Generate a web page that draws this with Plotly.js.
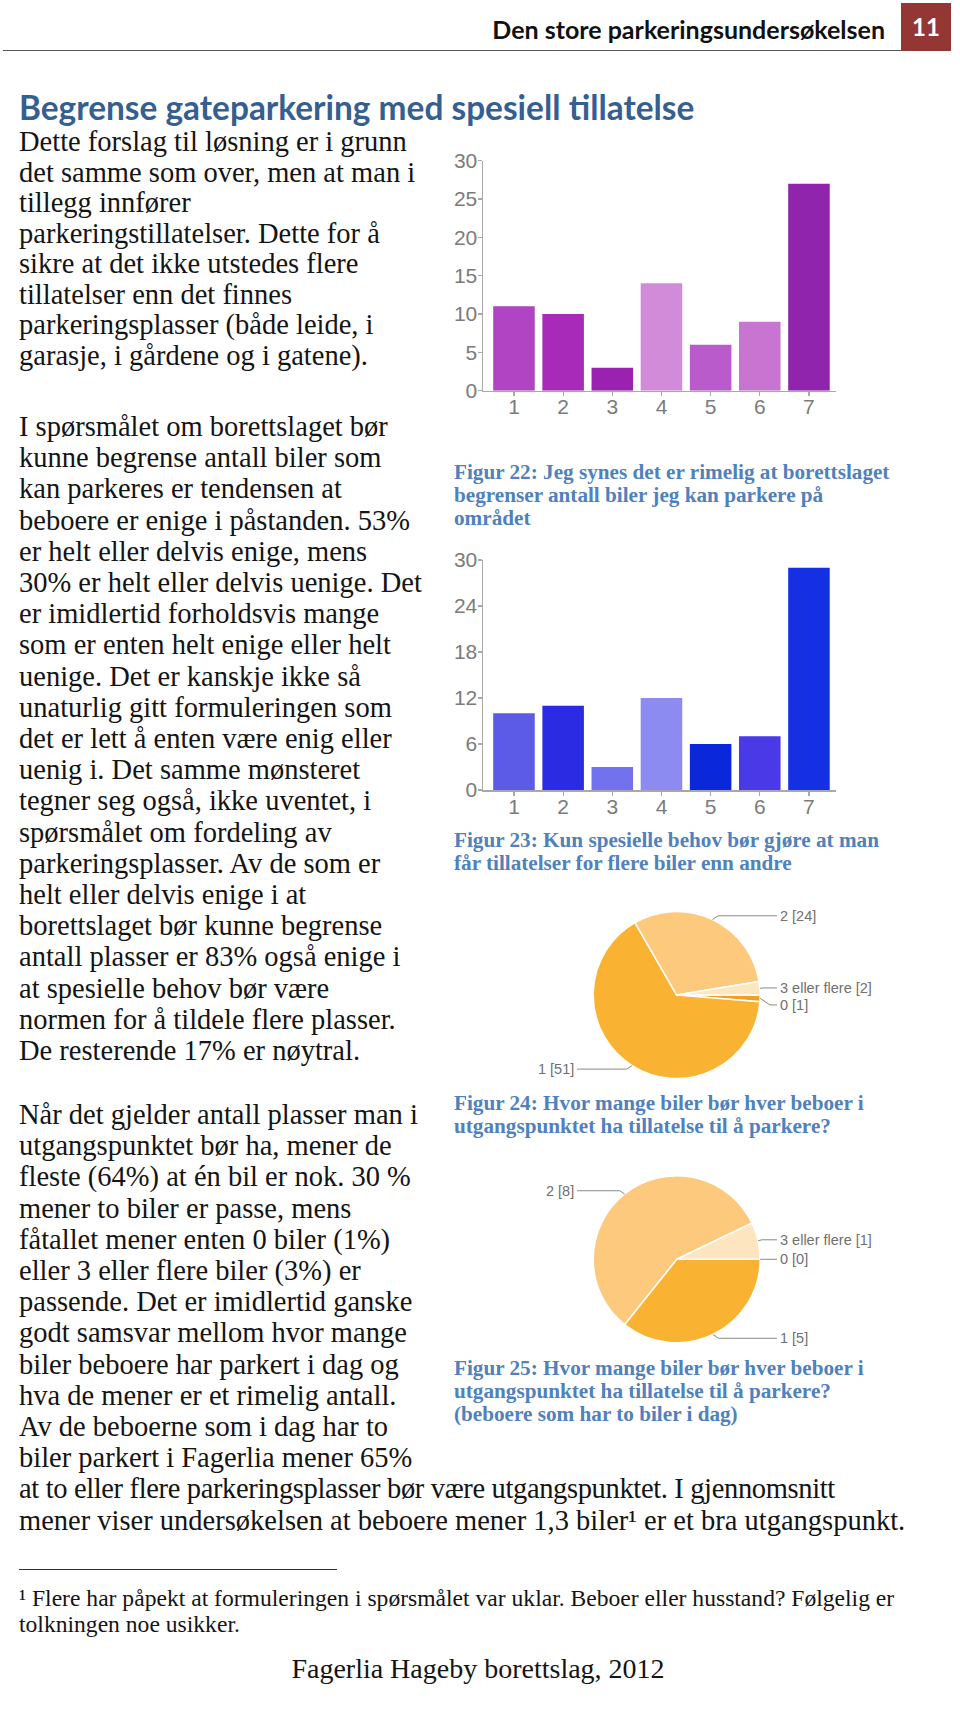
<!DOCTYPE html>
<html lang="no">
<head>
<meta charset="utf-8">
<script src="https://cdn.plot.ly/plotly-3.0.1.min.js"></script>
<style>
html,body{margin:0;padding:0;background:#fff;}
body{width:960px;height:1719px;position:relative;overflow:hidden;}
#chart{position:absolute;left:0;top:0;width:960px;height:1719px;z-index:1;}
.t{position:absolute;white-space:nowrap;font-family:"Liberation Serif","Times New Roman",serif;color:#141414;z-index:2;pointer-events:none;}
.body1{left:19px;top:127px;font-size:28.5px;line-height:30.5px;}
.body2{left:19px;top:411px;font-size:28.5px;line-height:31.2px;}
.body3{left:19px;top:1099px;font-size:28.5px;line-height:31.2px;}
.narrow{letter-spacing:-0.35px;}
.cap{left:454px;font-size:21.2px;line-height:23px;font-weight:bold;color:#4f81bd;}
.hdr{font-family:Lato,"Liberation Sans",sans-serif;font-weight:700;}
#header{right:75px;top:12px;font-size:25px;line-height:34px;color:#111;}
#pagebox{position:absolute;left:901px;top:3px;width:50px;height:48px;background:#943634;color:#fff;text-align:center;line-height:48px;font-size:24px;z-index:2;}
#rule{position:absolute;left:3px;top:50px;width:898px;height:0;border-top:1.5px solid #555;z-index:2;}
#title{left:19px;top:88px;font-size:33.4px;line-height:38px;color:#365f91;}
#fnrule{position:absolute;left:19px;top:1569px;width:318px;height:0;border-top:1.2px solid #333;z-index:2;}
#footnote{left:19px;top:1585px;font-size:23.6px;line-height:26.3px;}
#footer{left:0;width:956px;text-align:center;top:1652px;font-size:28px;line-height:34px;}
</style>
</head>
<body>
<div id="chart"></div>

<div id="header" class="t hdr">Den store parkeringsundersøkelsen</div>
<div id="pagebox" class="hdr">11</div>
<div id="rule"></div>
<div id="title" class="t hdr">Begrense gateparkering med spesiell tillatelse</div>

<div class="t body1">Dette forslag til løsning er i grunn<br>det samme som over, men at man i<br>tillegg innfører<br>parkeringstillatelser. Dette for å<br>sikre at det ikke utstedes flere<br>tillatelser enn det finnes<br>parkeringsplasser (både leide, i<br>garasje, i gårdene og i gatene).</div>

<div class="t body2">I spørsmålet om borettslaget bør<br>kunne begrense antall biler som<br>kan parkeres er tendensen at<br>beboere er enige i påstanden. 53%<br>er helt eller delvis enige, mens<br>30% er helt eller delvis uenige. Det<br>er imidlertid forholdsvis mange<br>som er enten helt enige eller helt<br>uenige. Det er kanskje ikke så<br>unaturlig gitt formuleringen som<br>det er lett å enten være enig eller<br>uenig i. Det samme mønsteret<br>tegner seg også, ikke uventet, i<br>spørsmålet om fordeling av<br>parkeringsplasser. Av de som er<br>helt eller delvis enige i at<br>borettslaget bør kunne begrense<br>antall plasser er 83% også enige i<br>at spesielle behov bør være<br>normen for å tildele flere plasser.<br>De resterende 17% er nøytral.</div>

<div class="t body3">Når det gjelder antall plasser man i<br>utgangspunktet bør ha, mener de<br>fleste (64%) at én bil er nok. 30 %<br>mener to biler er passe, mens<br>fåtallet mener enten 0 biler (1%)<br>eller 3 eller flere biler (3%) er<br>passende. Det er imidlertid ganske<br>godt samsvar mellom hvor mange<br>biler beboere har parkert i dag og<br>hva de mener er et rimelig antall.<br>Av de beboerne som i dag har to<br>biler parkert i Fagerlia mener 65%<br><span class="narrow">at to eller flere parkeringsplasser bør være utgangspunktet. I gjennomsnitt</span><br>mener viser undersøkelsen at beboere mener 1,3 biler¹ er et bra utgangspunkt.</div>

<div class="t cap" style="top:461px;">Figur 22: Jeg synes det er rimelig at borettslaget<br>begrenser antall biler jeg kan parkere på<br>området</div>
<div class="t cap" style="top:829px;">Figur 23: Kun spesielle behov bør gjøre at man<br>får tillatelser for flere biler enn andre</div>
<div class="t cap" style="top:1092px;">Figur 24: Hvor mange biler bør hver beboer i<br>utgangspunktet ha tillatelse til å parkere?</div>
<div class="t cap" style="top:1357px;">Figur 25: Hvor mange biler bør hver beboer i<br>utgangspunktet ha tillatelse til å parkere?<br>(beboere som har to biler i dag)</div>

<div id="fnrule"></div>
<div id="footnote" class="t">¹ Flere har påpekt at formuleringen i spørsmålet var uklar. Beboer eller husstand? Følgelig er<br>tolkningen noe usikker.</div>
<div id="footer" class="t">Fagerlia Hageby borettslag, 2012</div>

<script>
// ---------- data ----------
const barCategories = ['1', '2', '3', '4', '5', '6', '7'];
const fig22Values = [11, 10, 3, 14, 6, 9, 27];
const fig23Values = [10, 11, 3, 12, 6, 7, 29];
const fig22Ticks = [0, 5, 10, 15, 20, 25, 30];
const fig23Ticks = [0, 6, 12, 18, 24, 30];
const pieLabels = ['0', '1', '2', '3 eller flere'];
const fig24Values = [1, 51, 24, 2];
const fig25Values = [0, 5, 8, 1];

// ---------- styles ----------
const fig22Colors = ['#b044c2', '#a82ab9', '#9b22b1', '#d18bd9', '#b95bcb', '#c775d0', '#9124ad'];
const fig23Colors = ['#5b5be8', '#2b2be3', '#7272ee', '#8b8bf2', '#0a27d9', '#4939e6', '#1530e3'];
const pieColors = ['#f3a01e', '#fab233', '#fdc97d', '#fde5c0'];

const W = 960, H = 1719;
const X = px => px / W;
const Y = py => 1 - py / H;

const plotLeft = 483, plotRight = 836;
const box22 = {top: 160.7, bottom: 390.7};
const box23 = {top: 560, bottom: 790};
const pie24 = {cx: 676.7, cy: 995, r: 83.5};
const pie25 = {cx: 676.7, cy: 1259.3, r: 83.5};

const tickFont = {family: 'Liberation Sans, Arial, sans-serif', size: 21, color: '#7b7b7b'};
const axisGrey = '#a8a8a8';

function xAxis(yId) {
  return {
    type: 'category', range: [-0.63, 6.55], domain: [X(plotLeft), X(plotRight)],
    anchor: yId, showline: true, linecolor: axisGrey, linewidth: 1.5,
    ticks: 'outside', ticklen: 4, tickcolor: axisGrey, tickwidth: 1.2,
    ticklabelstandoff: -7,
    tickfont: tickFont, showgrid: false, zeroline: false, fixedrange: true
  };
}
function yAxis(xId, box, ticks) {
  return {
    range: [0, 30], domain: [Y(box.bottom), Y(box.top)], anchor: xId,
    tickmode: 'array', tickvals: ticks, ticktext: ticks.map(String),
    showline: true, linecolor: axisGrey, linewidth: 1.5,
    ticks: 'outside', ticklen: 4, tickcolor: axisGrey, tickwidth: 1.2,
    ticklabelstandoff: -4,
    tickfont: tickFont, showgrid: false, zeroline: false, fixedrange: true
  };
}
function pieDomain(p) {
  return {x: [X(p.cx - p.r), X(p.cx + p.r)], y: [Y(p.cy + p.r), Y(p.cy - p.r)]};
}

const traces = [
  {type: 'bar', x: barCategories, y: fig22Values, xaxis: 'x', yaxis: 'y',
   marker: {color: fig22Colors}, hoverinfo: 'skip'},
  {type: 'bar', x: barCategories, y: fig23Values, xaxis: 'x2', yaxis: 'y2',
   marker: {color: fig23Colors}, hoverinfo: 'skip'},
  {type: 'pie', labels: pieLabels, values: fig24Values, sort: false,
   direction: 'clockwise', rotation: 90, textinfo: 'none', hoverinfo: 'skip',
   marker: {colors: pieColors, line: {color: '#ffffff', width: 1.5}},
   domain: pieDomain(pie24)},
  {type: 'pie', labels: pieLabels, values: fig25Values, sort: false,
   direction: 'clockwise', rotation: 90, textinfo: 'none', hoverinfo: 'skip',
   marker: {colors: pieColors, line: {color: '#ffffff', width: 1.5}},
   domain: pieDomain(pie25)}
];

// leader lines and labels for pies, derived from slice angles
function pieLeaders(values, p) {
  const total = values.reduce((a, b) => a + b, 0);
  let acc = 0;
  const out = [];
  values.forEach((v, i) => {
    const mid = (90 + (acc + v / 2) / total * 360) * Math.PI / 180;
    acc += v;
    const ax = p.cx + p.r * Math.sin(mid);
    const ay = p.cy - p.r * Math.cos(mid);
    out.push({ax, ay, right: Math.sin(mid) > -1e-9,
              ly: p.cy + (ay - p.cy) * 1.05, text: pieLabels[i] + ' [' + v + ']'});
  });
  [true, false].forEach(side => {
    const g = out.filter(o => o.right === side).sort((a, b) => a.ly - b.ly);
    for (let k = 1; k < g.length; k++) {
      if (g[k].ly < g[k - 1].ly + 17) g[k].ly = g[k - 1].ly + 17;
    }
  });
  return out;
}

const shapes = [], annotations = [];
[[fig24Values, pie24], [fig25Values, pie25]].forEach(([vals, p]) => {
  pieLeaders(vals, p).forEach(o => {
    const dir = o.right ? 1 : -1;
    const d = Math.max(4, Math.abs(o.ly - o.ay) * 1.5);
    const ex = o.right ? 777 : 577;
    shapes.push({type: 'path', xref: 'paper', yref: 'paper',
      path: `M ${X(o.ax)} ${Y(o.ay)} L ${X(o.ax + dir * d)} ${Y(o.ly)} L ${X(ex)} ${Y(o.ly)}`,
      line: {color: '#8a8a8a', width: 1}});
    annotations.push({xref: 'paper', yref: 'paper', x: X(o.right ? 778 : 576), y: Y(o.ly),
      xanchor: o.right ? 'left' : 'right', yanchor: 'middle', showarrow: false,
      text: o.text, font: {family: 'Liberation Sans, Arial, sans-serif', size: 14.5, color: '#707070'}});
  });
});

const layout = {
  width: W, height: H, margin: {l: 0, r: 0, t: 0, b: 0},
  paper_bgcolor: 'rgba(0,0,0,0)', plot_bgcolor: 'rgba(0,0,0,0)',
  showlegend: false, bargap: 0.155,
  xaxis: xAxis('y'), yaxis: yAxis('x', box22, fig22Ticks),
  xaxis2: xAxis('y2'), yaxis2: yAxis('x2', box23, fig23Ticks),
  shapes, annotations
};

Plotly.newPlot('chart', traces, layout, {staticPlot: true, displayModeBar: false});
</script>
</body>
</html>
